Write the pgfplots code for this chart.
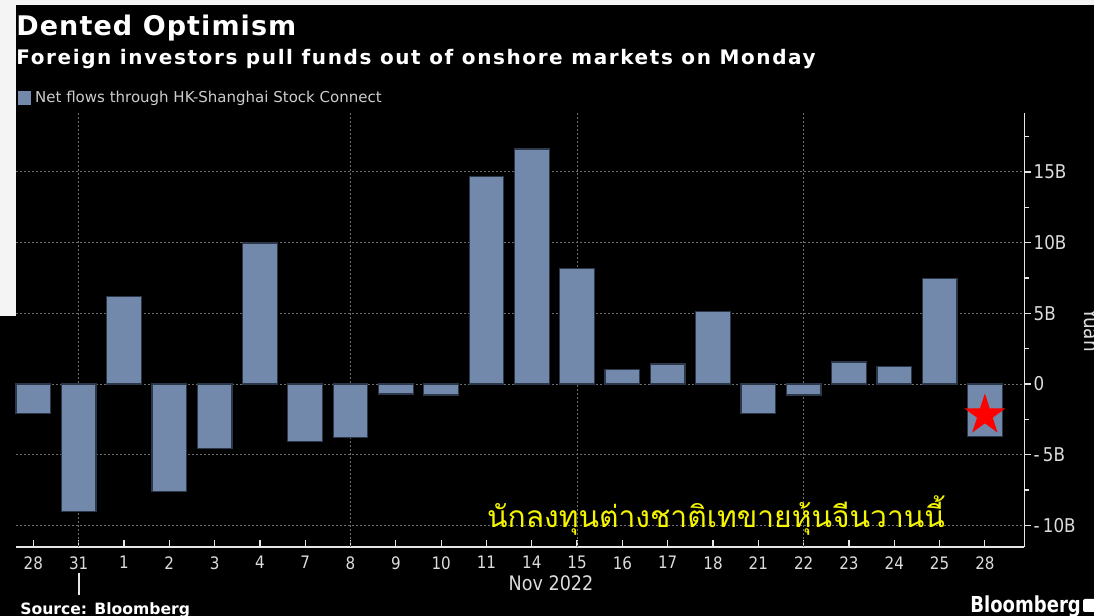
\documentclass[border=0pt]{standalone}
\usepackage{pgfplots}
\pgfplotsset{compat=1.18}
\usepackage{fontspec}
\setmainfont{DejaVu Sans}
\newfontfamily\condfont[FakeStretch=0.88]{DejaVu Sans}
\newfontfamily\logofont[FakeStretch=0.82]{DejaVu Sans}
\newfontfamily\titlefont[LetterSpace=4]{DejaVu Sans}
\newfontfamily\subfont[LetterSpace=8]{DejaVu Sans}
\newfontfamily\thaifont[Script=Thai]{Loma}
\definecolor{barfill}{RGB}{114,137,171}
\definecolor{barline}{RGB}{44,56,74}
\definecolor{axiscol}{RGB}{230,230,230}
\definecolor{labcol}{RGB}{220,220,220}
\definecolor{legcol}{RGB}{205,205,205}
\definecolor{gridcol}{RGB}{110,110,110}
\definecolor{thaiyellow}{RGB}{245,245,0}
\definecolor{stripcol}{RGB}{244,244,244}

\pgfdeclareplotmark{fstar}{%
  \pgfpathmoveto{\pgfpointpolar{90}{\pgfplotmarksize}}%
  \pgfpathlineto{\pgfpointpolar{126}{0.382\pgfplotmarksize}}%
  \pgfpathlineto{\pgfpointpolar{162}{\pgfplotmarksize}}%
  \pgfpathlineto{\pgfpointpolar{198}{0.382\pgfplotmarksize}}%
  \pgfpathlineto{\pgfpointpolar{234}{\pgfplotmarksize}}%
  \pgfpathlineto{\pgfpointpolar{270}{0.382\pgfplotmarksize}}%
  \pgfpathlineto{\pgfpointpolar{306}{\pgfplotmarksize}}%
  \pgfpathlineto{\pgfpointpolar{342}{0.382\pgfplotmarksize}}%
  \pgfpathlineto{\pgfpointpolar{18}{\pgfplotmarksize}}%
  \pgfpathlineto{\pgfpointpolar{54}{0.382\pgfplotmarksize}}%
  \pgfpathclose
  \pgfusepathqfill}

\pgfplotstableread{
idx val
0 -2.08
1 -9.00
2 6.18
3 -7.60
4 -4.58
5 9.98
6 -4.06
7 -3.77
8 -0.71
9 -0.78
10 14.69
11 16.63
12 8.18
13 1.04
14 1.42
15 5.14
16 -2.08
17 -0.78
18 1.56
19 1.23
20 7.48
21 -3.73
}\flows

\begin{document}
\begin{tikzpicture}
\useasboundingbox (0pt,0pt) rectangle (547pt,308pt);
\fill[black] (0pt,0pt) rectangle (547pt,308pt);
\fill[stripcol] (0pt,308pt) rectangle (8pt,150pt);
\fill[stripcol] (0pt,308pt) rectangle (547pt,305.5pt);

\begin{axis}[
  at={(8pt,34.5pt)}, anchor=south west,
  scale only axis, width=504.15pt, height=217pt,
  xmin=-0.383, xmax=21.87, ymin=-11.53, ymax=19.17,
  axis x line*=bottom, axis y line*=right,
  axis line style={draw=axiscol, line width=0.8pt},
  tick align=outside,
  major tick length=3.5pt, minor tick length=2.5pt,
  tick style={draw=axiscol, line width=0.6pt},
  every major x tick/.append style={yshift=3.5pt},
  xtick={0,...,21},
  xticklabels={28,31,1,2,3,4,7,8,9,10,11,14,15,16,17,18,21,22,23,24,25,28},
  xticklabel style={font=\condfont\fontsize{8.6}{10}\selectfont, text=labcol, inner sep=0pt, yshift=-1pt},
  extra x ticks={1,7,12,17},
  extra x tick labels={},
  extra x tick style={grid=major, tick style={draw=none}},
  ytick={-10,-5,0,5,10,15},
  yticklabels={-\,10B,-\,5B,0,5B,10B,15B},
  minor ytick={-7.5,-2.5,2.5,7.5,12.5,17.5},
  yticklabel style={font=\condfont\fontsize{9.5}{11}\selectfont, text=labcol, anchor=west, inner sep=0pt, xshift=1pt},
  ymajorgrids,
  grid style={draw=gridcol, line width=0.5pt, dash pattern=on 1pt off 1pt},
  legend style={at={(axis description cs:0,1)}, anchor=west, xshift=1pt, yshift=7.5pt,
    draw=none, fill=none, text=legcol, font=\fontsize{7.5}{9}\selectfont,
    inner sep=0pt, outer sep=0pt},
  legend cell align=left,
  clip=false,
]
\addplot[ybar, bar width=17.35pt, fill=barfill, draw=barline, line width=0.6pt,
  legend image code/.code={\fill[barfill] (0pt,-3pt) rectangle (6pt,3pt);}]
  table[x=idx, y=val] {\flows};
\addlegendentry{Net flows through HK-Shanghai Stock Connect}
\addplot[only marks, mark=fstar, mark size=10.8pt, color=red, forget plot]
  coordinates {(21,-2.2)};
\end{axis}

\begin{scope}[x=0.5pt,y=0.5pt]
% long separator tick under 31, between the date row and the month row
\draw[axiscol, line width=0.6pt] (79,43) -- (79,21);
\node[anchor=base west, text=white, inner sep=0pt, font=\titlefont\bfseries\fontsize{13.5}{16}\selectfont] at (16,580) {Dented Optimism};
\node[anchor=base west, text=white, inner sep=0pt, font=\subfont\bfseries\fontsize{10}{12}\selectfont] at (16,551) {Foreign investors pull funds out of onshore markets on Monday};
\node[anchor=base, text=labcol, inner sep=0pt, font=\condfont\fontsize{10}{12}\selectfont] at (551,25) {Nov 2022};
\node[anchor=base west, text=white, inner sep=0pt, font=\bfseries\fontsize{7.8}{9}\selectfont] at (20,1) {Source: Bloomberg};
\node[anchor=base west, text=white, inner sep=0pt, font=\logofont\bfseries\fontsize{11}{13}\selectfont] at (970,3) {Bloomberg};
\fill[white, rounded corners=1pt] (1083,4) rectangle (1100,17);
\node[rotate=-90, text=labcol, inner sep=0pt, font=\condfont\fontsize{10.5}{12}\selectfont] at (1092,286) {Yuan};
\node[anchor=base, text=thaiyellow, inner sep=0pt, font=\thaifont\fontsize{15}{18}\selectfont] at (716,88) {นักลงทุนต่างชาติเทขายหุ้นจีนวานนี้};
\end{scope}
\end{tikzpicture}
\end{document}
